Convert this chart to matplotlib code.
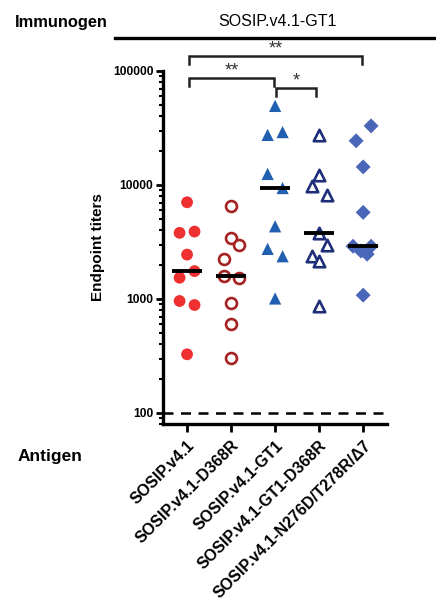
import numpy as np
import matplotlib
matplotlib.use('Agg')
import matplotlib.pyplot as plt
import matplotlib.ticker as mticker
from matplotlib.lines import Line2D

plt.rcParams['font.family'] = ['Liberation Sans', 'DejaVu Sans']

# data
antigens = ['SOSIP.v4.1', 'SOSIP.v4.1-D368R', 'SOSIP.v4.1-GT1',
            'SOSIP.v4.1-GT1-D368R', 'SOSIP.v4.1-N276D/T278R/\u03947']
v41 = [7050, 3800, 3900, 2450, 1755, 1535, 960, 885, 327]
v41_d368r = [6590, 3440, 3000, 2220, 1585, 1535, 916, 600, 306]
gt1 = [49400, 27500, 29100, 12500, 9400, 4340, 2750, 2370, 1010]
gt1_d368r = [27500, 12300, 9860, 8220, 3800, 2945, 2370, 2150, 867]
n276d = [33000, 24400, 14400, 5750, 2900, 2900, 2630, 2470, 1080]
series = [v41, v41_d368r, gt1, gt1_d368r, n276d]

# horizontal spread of the dots (data units)
jitter = [
    [0, -0.17, 0.17, 0, 0.17, -0.17, -0.17, 0.17, 0],
    [0, 0, 0.17, -0.17, -0.17, 0.17, 0, 0, 0],
    [0, -0.17, 0.17, -0.17, 0.17, 0, -0.17, 0.17, 0],
    [0, 0, -0.17, 0.17, 0, 0.17, -0.17, 0, 0],
    [0.18, -0.16, 0, 0, -0.23, 0.18, -0.05, 0.09, 0],
]

styles = [
    dict(marker='o', color='#ee3030', filled=True, s=72),
    dict(marker='o', color='#a52222', filled=False, s=62),
    dict(marker='^', color='#2160b0', filled=True, s=78),
    dict(marker='^', color='#1f2e78', filled=False, s=68),
    dict(marker='D', color='#4a66b8', filled=True, s=58),
]

fig = plt.figure(figsize=(4.36, 6.01), dpi=100)
ax = fig.add_axes([0.374, 0.2945, 0.514, 0.5874])

for i, (vals, jit, st) in enumerate(zip(series, jitter, styles)):
    xs = i + np.array(jit)
    if st['filled']:
        ax.scatter(xs, vals, marker=st['marker'], s=st['s'], color=st['color'],
                   edgecolors='none', zorder=3, clip_on=False)
    else:
        ax.scatter(xs, vals, marker=st['marker'], s=st['s'], facecolors='white',
                   edgecolors=st['color'], linewidths=1.9, zorder=3, clip_on=False)
    med = np.median(vals)
    ax.plot([i - 0.34, i + 0.34], [med, med], color='black', lw=2.8, zorder=4,
            solid_capstyle='butt')

ax.axhline(100, color='black', lw=1.8, dashes=(4, 3))

ax.set_yscale('log')
ax.set_ylim(80, 100000)
ax.set_xlim(-0.545, 4.545)
ax.yaxis.set_major_locator(mticker.FixedLocator([100, 1000, 10000, 100000]))
ax.yaxis.set_major_formatter(mticker.FuncFormatter(lambda v, p: '%d' % v))
ax.yaxis.set_minor_locator(mticker.LogLocator(base=10, subs=np.arange(2, 10)))
ax.yaxis.set_minor_formatter(mticker.NullFormatter())

ax.set_xticks(range(len(antigens)))
ax.set_xticklabels(antigens, rotation=45, ha='right', rotation_mode='anchor',
                   fontsize=11.5, fontweight='bold')
for lab in ax.get_yticklabels():
    lab.set_fontweight('bold')
ax.tick_params(axis='y', which='major', labelsize=8.7, length=5, width=2, pad=2)
ax.tick_params(axis='y', which='minor', length=3, width=1.5)
ax.tick_params(axis='x', length=6, width=2, pad=4)

for sp in ['top', 'right']:
    ax.spines[sp].set_visible(False)
for sp in ['left', 'bottom']:
    ax.spines[sp].set_linewidth(2.4)

ax.set_ylabel('Endpoint titers', fontsize=11, fontweight='bold', labelpad=6)

# significance brackets
def bracket(x0, x1, ytop, yleg, ytxt, label):
    ax.plot([x0, x0, x1, x1], [yleg, ytop, ytop, yleg], color='#222222', lw=1.8,
            clip_on=False, solid_joinstyle='miter')
    ax.text((x0 + x1) / 2, ytxt, label, ha='center', va='center', fontsize=13,
            color='#333333')

bracket(0.05, 3.98, 136000, 115000, 156000, '**')
bracket(0.05, 1.98, 86900, 74000, 99000, '**')
bracket(2.03, 2.93, 71000, 60400, 81000, '*')

fig.text(15 / 436, 1 - 22 / 601, 'Immunogen', fontsize=11.8, fontweight='bold',
         ha='left', va='center')
fig.text(277 / 436, 1 - 22 / 601, 'SOSIP.v4.1-GT1', fontsize=11.5,
         ha='center', va='center')
fig.add_artist(Line2D([115 / 436, 1.0], [1 - 38 / 601, 1 - 38 / 601],
                      color='black', lw=2.4))
fig.text(18 / 436, 1 - 456 / 601, 'Antigen', fontsize=12.5, fontweight='bold',
         ha='left', va='center')

fig.savefig('out.png', dpi=100)
